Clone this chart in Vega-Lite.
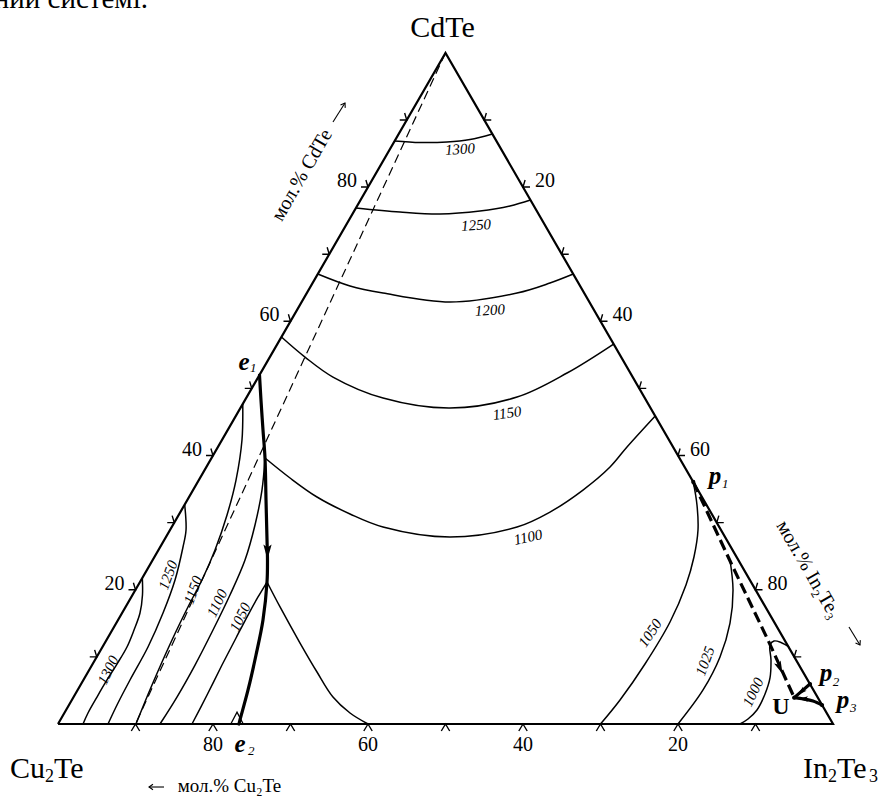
{
"$schema":"https://vega.github.io/schema/vega-lite/v6.json",
"width":880,"height":796,"padding":0,"autosize":{"type":"none"},
"background":"white",
"config":{"view":{"stroke":null},"text":{"font":"Liberation Serif","color":"black"}},
"encoding":{
 "x":{"field":"x","type":"quantitative","scale":{"domain":[-7.4839,106.0645],"nice":false,"zero":false},"axis":null},
 "y":{"field":"y","type":"quantitative","scale":{"domain":[-9.2903,93.4194],"nice":false,"zero":false},"axis":null}
},
"datasets":{
 "tri":[{"o":1,"x":0,"y":0},{"o":2,"x":100,"y":0},{"o":3,"x":50,"y":86.603},{"o":4,"x":0,"y":0}],
 "iso":[
  {"id":"u1300","o":1,"x":43.43,"y":75.23},{"id":"u1300","o":2,"x":46.71,"y":75.03},{"id":"u1300","o":3,"x":50.19,"y":75.10},{"id":"u1300","o":4,"x":53.16,"y":75.42},{"id":"u1300","o":5,"x":56.05,"y":76.13},
  {"id":"u1250","o":1,"x":38.44,"y":66.58},{"id":"u1250","o":2,"x":44.13,"y":66.06},{"id":"u1250","o":3,"x":49.29,"y":65.81},{"id":"u1250","o":4,"x":54.45,"y":66.19},{"id":"u1250","o":5,"x":58.32,"y":66.84},{"id":"u1250","o":6,"x":60.96,"y":67.61},
  {"id":"u1200","o":1,"x":33.52,"y":58.06},{"id":"u1200","o":2,"x":37.68,"y":56.52},{"id":"u1200","o":3,"x":41.94,"y":55.61},{"id":"u1200","o":4,"x":50.58,"y":54.45},{"id":"u1200","o":5,"x":59.23,"y":55.61},{"id":"u1200","o":6,"x":63.48,"y":56.90},{"id":"u1200","o":7,"x":66.48,"y":58.06},
  {"id":"u1150","o":1,"x":28.83,"y":49.94},{"id":"u1150","o":2,"x":31.87,"y":47.35},{"id":"u1150","o":3,"x":35.48,"y":44.77},{"id":"u1150","o":4,"x":41.94,"y":42.06},{"id":"u1150","o":5,"x":50.58,"y":40.77},{"id":"u1150","o":6,"x":59.23,"y":42.19},{"id":"u1150","o":7,"x":65.68,"y":45.29},{"id":"u1150","o":8,"x":71.69,"y":49.03},
  {"id":"u1100","o":1,"x":26.71,"y":34.32},{"id":"u1100","o":2,"x":29.94,"y":31.74},{"id":"u1100","o":3,"x":33.42,"y":29.29},{"id":"u1100","o":4,"x":37.68,"y":27.10},{"id":"u1100","o":5,"x":41.94,"y":25.42},{"id":"u1100","o":6,"x":50.58,"y":24.13},{"id":"u1100","o":7,"x":59.23,"y":25.42},{"id":"u1100","o":8,"x":63.48,"y":27.35},{"id":"u1100","o":9,"x":67.74,"y":30.19},{"id":"u1100","o":10,"x":71.23,"y":33.16},{"id":"u1100","o":11,"x":73.42,"y":35.74},{"id":"u1100","o":12,"x":77.06,"y":39.74},
  {"id":"l1300","o":1,"x":10.88,"y":18.84},{"id":"l1300","o":2,"x":10.90,"y":16.65},{"id":"l1300","o":3,"x":10.58,"y":14.32},{"id":"l1300","o":4,"x":9.81,"y":12.13},{"id":"l1300","o":5,"x":8.90,"y":9.94},{"id":"l1300","o":6,"x":7.61,"y":7.74},{"id":"l1300","o":7,"x":6.32,"y":5.68},{"id":"l1300","o":8,"x":5.03,"y":3.48},{"id":"l1300","o":9,"x":3.87,"y":1.42},{"id":"l1300","o":10,"x":3.23,"y":0},
  {"id":"l1250","o":1,"x":16.35,"y":28.26},{"id":"l1250","o":2,"x":16.52,"y":25.03},{"id":"l1250","o":3,"x":16.13,"y":22.84},{"id":"l1250","o":4,"x":15.10,"y":18.58},{"id":"l1250","o":5,"x":13.55,"y":14.32},{"id":"l1250","o":6,"x":11.61,"y":9.94},{"id":"l1250","o":7,"x":9.29,"y":5.68},{"id":"l1250","o":8,"x":7.74,"y":2.71},{"id":"l1250","o":9,"x":6.45,"y":0},
  {"id":"l1150","o":1,"x":23.84,"y":41.29},{"id":"l1150","o":2,"x":23.74,"y":36.65},{"id":"l1150","o":3,"x":22.97,"y":31.48},{"id":"l1150","o":4,"x":21.81,"y":26.97},{"id":"l1150","o":5,"x":20.26,"y":22.45},{"id":"l1150","o":6,"x":18.58,"y":18.58},{"id":"l1150","o":7,"x":16.90,"y":15.35},{"id":"l1150","o":8,"x":14.71,"y":10.84},{"id":"l1150","o":9,"x":12.13,"y":5.03},{"id":"l1150","o":10,"x":10.06,"y":0},
  {"id":"l1100","o":1,"x":26.71,"y":34.32},{"id":"l1100","o":2,"x":26.32,"y":30.19},{"id":"l1100","o":3,"x":25.42,"y":25.68},{"id":"l1100","o":4,"x":24.13,"y":21.16},{"id":"l1100","o":5,"x":22.19,"y":16.65},{"id":"l1100","o":6,"x":20.0,"y":12.13},{"id":"l1100","o":7,"x":17.68,"y":7.61},{"id":"l1100","o":8,"x":15.35,"y":3.48},{"id":"l1100","o":9,"x":13.16,"y":0},
  {"id":"l1050","o":1,"x":26.97,"y":18.32},{"id":"l1050","o":2,"x":25.81,"y":16.39},{"id":"l1050","o":3,"x":24.52,"y":14.06},{"id":"l1050","o":4,"x":22.97,"y":11.10},{"id":"l1050","o":5,"x":21.16,"y":7.61},{"id":"l1050","o":6,"x":19.23,"y":3.74},{"id":"l1050","o":7,"x":17.29,"y":0},
  {"id":"c1050","o":1,"x":26.97,"y":18.32},{"id":"c1050","o":2,"x":28.65,"y":15.10},{"id":"c1050","o":3,"x":31.23,"y":10.45},{"id":"c1050","o":4,"x":33.42,"y":6.71},{"id":"c1050","o":5,"x":35.48,"y":3.48},{"id":"c1050","o":6,"x":37.68,"y":1.42},{"id":"c1050","o":7,"x":40.0,"y":0},
  {"id":"r1050","o":1,"x":81.97,"y":31.23},{"id":"r1050","o":2,"x":82.45,"y":28.26},{"id":"r1050","o":3,"x":82.58,"y":25.03},{"id":"r1050","o":4,"x":82.06,"y":21.55},{"id":"r1050","o":5,"x":81.03,"y":17.94},{"id":"r1050","o":6,"x":78.97,"y":13.16},{"id":"r1050","o":7,"x":75.74,"y":7.74},{"id":"r1050","o":8,"x":72.52,"y":3.10},{"id":"r1050","o":9,"x":70.0,"y":0},
  {"id":"r1025","o":1,"x":86.71,"y":21.16},{"id":"r1025","o":2,"x":87.10,"y":17.29},{"id":"r1025","o":3,"x":86.71,"y":13.03},{"id":"r1025","o":4,"x":85.42,"y":8.65},{"id":"r1025","o":5,"x":83.23,"y":4.39},{"id":"r1025","o":6,"x":80.0,"y":0},
  {"id":"r1000","o":1,"x":94.32,"y":9.94},{"id":"r1000","o":2,"x":93.29,"y":10.52},{"id":"r1000","o":3,"x":92.39,"y":10.71},{"id":"r1000","o":4,"x":91.87,"y":10.19},{"id":"r1000","o":5,"x":92.0,"y":8.26},{"id":"r1000","o":6,"x":91.87,"y":5.94},{"id":"r1000","o":7,"x":91.23,"y":3.87},{"id":"r1000","o":8,"x":90.19,"y":1.81},{"id":"r1000","o":9,"x":89.03,"y":0.65},{"id":"r1000","o":10,"x":88.0,"y":0}
 ],
 "thick":[
  {"id":"e","o":1,"x":26.0,"y":45.03},{"id":"e","o":2,"x":26.19,"y":41.81},{"id":"e","o":3,"x":26.45,"y":37.94},{"id":"e","o":4,"x":26.71,"y":34.32},{"id":"e","o":5,"x":26.84,"y":28.90},{"id":"e","o":6,"x":26.97,"y":23.74},{"id":"e","o":7,"x":27.03,"y":21.16},{"id":"e","o":8,"x":26.97,"y":18.32},{"id":"e","o":9,"x":26.45,"y":13.42},{"id":"e","o":10,"x":25.55,"y":8.90},{"id":"e","o":11,"x":24.52,"y":4.39},{"id":"e","o":12,"x":23.48,"y":0.52},{"id":"e","o":13,"x":23.35,"y":0},
  {"id":"p2","o":1,"x":97.03,"y":5.16},{"id":"p2","o":2,"x":95.0,"y":3.4},
  {"id":"p3","o":1,"x":98.58,"y":2.45},{"id":"p3","o":2,"x":97.42,"y":2.97},{"id":"p3","o":3,"x":96.26,"y":3.23},{"id":"p3","o":4,"x":95.0,"y":3.4}
 ],
 "tdash":[{"o":1,"x":81.97,"y":31.23},{"o":2,"x":86.84,"y":20.77},{"o":3,"x":91.61,"y":10.84},{"o":4,"x":95.0,"y":3.4}],
 "dash":[{"o":1,"x":50,"y":86.603},{"o":2,"x":10,"y":0}],
 "axarr":[
  {"id":"cd","o":1,"x":35.48,"y":77.68},{"id":"cd","o":2,"x":37.03,"y":80.13},
  {"id":"in","o":1,"x":102.06,"y":12.52},{"id":"in","o":2,"x":103.48,"y":10.19},
  {"id":"cu","o":1,"x":13.68,"y":-8.13},{"id":"cu","o":2,"x":11.74,"y":-8.13}
 ],
 "axhead":[{"k":"cd","x":37.03,"y":80.13},{"k":"in","x":103.48,"y":10.19},{"k":"cu","x":11.74,"y":-8.13}],
 "tb":[{"x":10,"y":0},{"x":20,"y":0},{"x":30,"y":0},{"x":40,"y":0},{"x":50,"y":0},{"x":60,"y":0},{"x":70,"y":0},{"x":80,"y":0},{"x":90,"y":0}],
 "tl":[{"x":5,"y":8.660},{"x":10,"y":17.321},{"x":15,"y":25.981},{"x":20,"y":34.641},{"x":25,"y":43.301},{"x":30,"y":51.962},{"x":35,"y":60.622},{"x":40,"y":69.282},{"x":45,"y":77.942}],
 "tr":[{"x":55,"y":77.942},{"x":60,"y":69.282},{"x":65,"y":60.622},{"x":70,"y":51.962},{"x":75,"y":43.301},{"x":80,"y":34.641},{"x":85,"y":25.981},{"x":90,"y":17.321},{"x":95,"y":8.660}],
 "lb":[{"t":"80","x":20,"y":0},{"t":"60","x":40,"y":0},{"t":"40","x":60,"y":0},{"t":"20","x":80,"y":0}],
 "ll":[{"t":"20","x":10,"y":17.321},{"t":"40","x":20,"y":34.641},{"t":"60","x":30,"y":51.962},{"t":"80","x":40,"y":69.282}],
 "lr":[{"t":"20","x":60,"y":69.282},{"t":"40","x":70,"y":51.962},{"t":"60","x":80,"y":34.641},{"t":"80","x":90,"y":17.321}],
 "isolab":[
  {"k":"u1300","t":"1300","x":51.87,"y":74.19},{"k":"u1250","t":"1250","x":53.94,"y":64.39},{"k":"u1200","t":"1200","x":55.74,"y":53.42},{"k":"u1150","t":"1150","x":57.94,"y":40.13},{"k":"u1100","t":"1100","x":60.65,"y":24.13},
  {"k":"l1300","t":"1300","x":6.45,"y":6.97},{"k":"l1250","t":"1250","x":14.19,"y":19.23},{"k":"l1150","t":"1150","x":17.42,"y":17.29},{"k":"l1100","t":"1100","x":20.52,"y":15.61},{"k":"l1050","t":"1050","x":23.48,"y":13.81},
  {"k":"r1050","t":"1050","x":76.39,"y":11.74},{"k":"r1025","t":"1025","x":83.48,"y":8.13},{"k":"r1000","t":"1000","x":89.68,"y":4.13}
 ],
 "arr":[{"k":"mid","x":27.03,"y":22.19},{"k":"td","x":93.16,"y":7.23},{"k":"p2","x":95.87,"y":4.13},{"k":"p3","x":96.13,"y":3.23}],
 "dots":[{"x":81.97,"y":31.23},{"x":97.03,"y":5.16},{"x":98.58,"y":2.45},{"x":95.0,"y":3.4}],
 "e2m":[{"x":23.10,"y":0.77}],
 "vert":[{"t":"Cu","x":-6.19,"y":-6.97},{"t":"Te","x":-0.52,"y":-6.97},{"t":"In","x":96.13,"y":-6.97},{"t":"Te","x":100.52,"y":-6.97}],
 "vsub":[{"t":"2","x":-1.68,"y":-7.48},{"t":"2","x":99.35,"y":-7.48},{"t":"3","x":104.65,"y":-7.48}],
 "top":[{"t":"CdTe","x":49.61,"y":88.65}],
 "head":[{"t":"ний системі.","x":11.61,"y":92.39}],
 "tcd":[{"t":"мол.% CdTe","x":31.48,"y":70.84}],
 "tin":[{"t":"мол.% In₂Te₃","x":96.84,"y":19.93}],
 "tcu":[{"t":"мол.% Cu₂Te","x":22.13,"y":-8.0}],
 "ptl":[{"t":"e","x":24.0,"y":45.68},{"t":"e","x":23.48,"y":-3.61},{"t":"p","x":84.77,"y":30.97},{"t":"p","x":99.10,"y":5.55},{"t":"p","x":101.29,"y":2.05}],
 "pts":[{"t":"1","x":24.77,"y":45.42},{"t":"2","x":24.52,"y":-4.0},{"t":"1","x":85.68,"y":30.45},{"t":"2","x":99.97,"y":4.95},{"t":"3","x":102.2,"y":1.55}],
 "ulab":[{"t":"U","x":93.29,"y":1.29}]
},
"layer":[
 {"data":{"name":"iso"},"mark":{"type":"line","color":"black","strokeWidth":1.5,"interpolate":"catmull-rom"},"encoding":{"detail":{"field":"id"},"order":{"field":"o"}}},
 {"data":{"name":"dash"},"mark":{"type":"line","color":"black","strokeWidth":1.2,"strokeDash":[9,5]},"encoding":{"order":{"field":"o"}}},
 {"data":{"name":"thick"},"mark":{"type":"line","color":"black","strokeWidth":3.2,"interpolate":"catmull-rom","strokeCap":"round"},"encoding":{"detail":{"field":"id"},"order":{"field":"o"}}},
 {"data":{"name":"tdash"},"mark":{"type":"line","color":"black","strokeWidth":3.2,"strokeDash":[11,5]},"encoding":{"order":{"field":"o"}}},
 {"data":{"name":"tri"},"mark":{"type":"line","color":"black","strokeWidth":2.2,"strokeJoin":"miter"},"encoding":{"order":{"field":"o"}}},
 {"data":{"name":"axarr"},"mark":{"type":"line","color":"black","strokeWidth":1.1},"encoding":{"detail":{"field":"id"},"order":{"field":"o"}}},
 {"data":{"name":"axhead"},"transform":[{"filter":{"field":"k","equal":"cd"}}],"mark":{"type":"point","shape":"M-0.7,-1L0,0L0.7,-1","filled":false,"color":"black","opacity":1,"size":64,"strokeWidth":1.1,"angle":212}},
 {"data":{"name":"axhead"},"transform":[{"filter":{"field":"k","equal":"in"}}],"mark":{"type":"point","shape":"M-0.7,-1L0,0L0.7,-1","filled":false,"color":"black","opacity":1,"size":64,"strokeWidth":1.1,"angle":-31}},
 {"data":{"name":"axhead"},"transform":[{"filter":{"field":"k","equal":"cu"}}],"mark":{"type":"point","shape":"M-0.7,-1L0,0L0.7,-1","filled":false,"color":"black","opacity":1,"size":64,"strokeWidth":1.1,"angle":90}},
 {"data":{"name":"tb"},"mark":{"type":"point","shape":"M-0.6,1L0,0L0.6,1","filled":false,"color":"black","opacity":1,"size":196,"strokeWidth":1.4}},
 {"data":{"name":"tl"},"mark":{"type":"point","shape":"M-0.3,-1L0,0L-1,0","filled":false,"color":"black","opacity":1,"size":196,"strokeWidth":1.4}},
 {"data":{"name":"tr"},"mark":{"type":"point","shape":"M0.3,-1L0,0L1,0","filled":false,"color":"black","opacity":1,"size":196,"strokeWidth":1.4}},
 {"data":{"name":"arr"},"transform":[{"filter":{"field":"k","equal":"mid"}}],"mark":{"type":"point","shape":"M-0.55,-1L0,1L0.55,-1L0,-0.6Z","filled":true,"color":"black","opacity":1,"size":225,"angle":0}},
 {"data":{"name":"arr"},"transform":[{"filter":{"field":"k","equal":"td"}}],"mark":{"type":"point","shape":"M-0.55,-1L0,1L0.55,-1L0,-0.6Z","filled":true,"color":"black","opacity":1,"size":169,"angle":-24}},
 {"data":{"name":"arr"},"transform":[{"filter":{"field":"k","equal":"p2"}}],"mark":{"type":"point","shape":"M-0.55,-1L0,1L0.55,-1L0,-0.6Z","filled":true,"color":"black","opacity":1,"size":100,"angle":49}},
 {"data":{"name":"arr"},"transform":[{"filter":{"field":"k","equal":"p3"}}],"mark":{"type":"point","shape":"M-0.55,-1L0,1L0.55,-1L0,-0.6Z","filled":true,"color":"black","opacity":1,"size":100,"angle":90}},
 {"data":{"name":"dots"},"mark":{"type":"circle","color":"black","opacity":1,"size":18}},
 {"data":{"name":"e2m"},"mark":{"type":"point","shape":"M-1,1L0,-0.9L1,1","filled":false,"color":"black","opacity":1,"size":169,"strokeWidth":1.3}},
 {"data":{"name":"lb"},"mark":{"type":"text","fontSize":20,"align":"center","baseline":"middle","dy":21},"encoding":{"text":{"field":"t"}}},
 {"data":{"name":"ll"},"mark":{"type":"text","fontSize":20,"align":"center","baseline":"middle","dx":-21,"dy":-6},"encoding":{"text":{"field":"t"}}},
 {"data":{"name":"lr"},"mark":{"type":"text","fontSize":20,"align":"center","baseline":"middle","dx":22,"dy":-6},"encoding":{"text":{"field":"t"}}},
 {"data":{"name":"isolab"},"transform":[{"filter":{"field":"k","oneOf":["u1300","u1250","u1200"]}}],"mark":{"type":"text","fontSize":15,"fontStyle":"italic","align":"center","baseline":"middle","angle":-4},"encoding":{"text":{"field":"t"}}},
 {"data":{"name":"isolab"},"transform":[{"filter":{"field":"k","equal":"u1150"}}],"mark":{"type":"text","fontSize":15,"fontStyle":"italic","align":"center","baseline":"middle","angle":-8},"encoding":{"text":{"field":"t"}}},
 {"data":{"name":"isolab"},"transform":[{"filter":{"field":"k","equal":"u1100"}}],"mark":{"type":"text","fontSize":15,"fontStyle":"italic","align":"center","baseline":"middle","angle":-12},"encoding":{"text":{"field":"t"}}},
 {"data":{"name":"isolab"},"transform":[{"filter":{"field":"k","oneOf":["l1300","l1100","l1050","r1000"]}}],"mark":{"type":"text","fontSize":15,"fontStyle":"italic","align":"center","baseline":"middle","angle":-64},"encoding":{"text":{"field":"t"}}},
 {"data":{"name":"isolab"},"transform":[{"filter":{"field":"k","oneOf":["l1250","l1150","r1025"]}}],"mark":{"type":"text","fontSize":15,"fontStyle":"italic","align":"center","baseline":"middle","angle":-70},"encoding":{"text":{"field":"t"}}},
 {"data":{"name":"isolab"},"transform":[{"filter":{"field":"k","equal":"r1050"}}],"mark":{"type":"text","fontSize":15,"fontStyle":"italic","align":"center","baseline":"middle","angle":-56},"encoding":{"text":{"field":"t"}}},
 {"data":{"name":"vert"},"mark":{"type":"text","fontSize":30,"align":"left","baseline":"alphabetic"},"encoding":{"text":{"field":"t"}}},
 {"data":{"name":"vsub"},"mark":{"type":"text","fontSize":18,"align":"left","baseline":"alphabetic"},"encoding":{"text":{"field":"t"}}},
 {"data":{"name":"top"},"mark":{"type":"text","fontSize":30,"align":"center","baseline":"alphabetic"},"encoding":{"text":{"field":"t"}}},
 {"data":{"name":"head"},"mark":{"type":"text","fontSize":29,"align":"right","baseline":"alphabetic"},"encoding":{"text":{"field":"t"}}},
 {"data":{"name":"tcd"},"mark":{"type":"text","fontSize":20,"align":"center","baseline":"middle","angle":-60},"encoding":{"text":{"field":"t"}}},
 {"data":{"name":"tin"},"mark":{"type":"text","fontSize":20,"align":"center","baseline":"middle","angle":60},"encoding":{"text":{"field":"t"}}},
 {"data":{"name":"tcu"},"mark":{"type":"text","fontSize":19,"align":"center","baseline":"middle"},"encoding":{"text":{"field":"t"}}},
 {"data":{"name":"ptl"},"mark":{"type":"text","fontSize":25,"fontStyle":"italic","fontWeight":"bold","align":"center","baseline":"alphabetic"},"encoding":{"text":{"field":"t"}}},
 {"data":{"name":"pts"},"mark":{"type":"text","fontSize":13,"fontStyle":"italic","align":"left","baseline":"alphabetic"},"encoding":{"text":{"field":"t"}}},
 {"data":{"name":"ulab"},"mark":{"type":"text","fontSize":24,"fontWeight":"bold","align":"center","baseline":"alphabetic"},"encoding":{"text":{"field":"t"}}}
]
}
